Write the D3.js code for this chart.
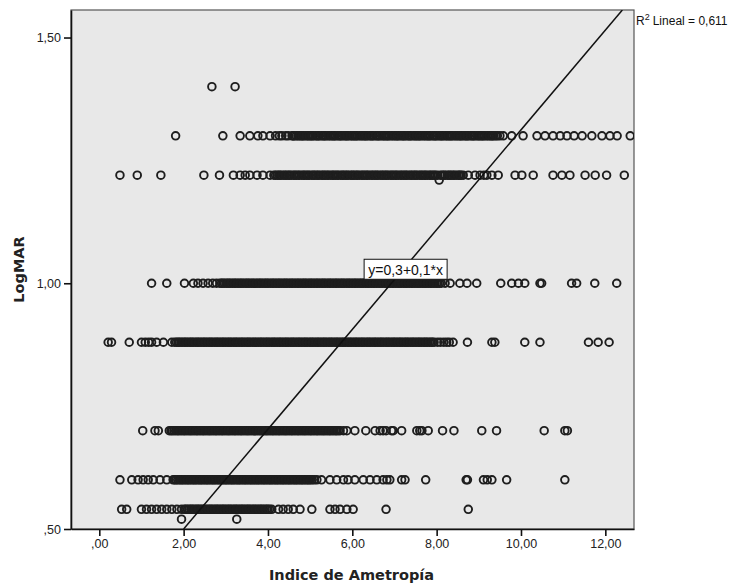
<!DOCTYPE html>
<html><head><meta charset="utf-8">
<script src="https://cdn.jsdelivr.net/npm/d3@7"></script>
<style>body{margin:0;background:#fff}</style></head>
<body><svg id="c" width="732" height="586"></svg>
<script>
// LogMAR levels (y) and the Indice de Ametropía values (x) read at each level
const x_140 = [2.67, 3.22];
const x_130 = [1.81, 2.93, 3.34, 3.57, 3.76, 3.88, 4.05, 4.18, 4.27, 4.33, 4.42, 4.48, 4.57, 4.62, 4.71, 4.79, 4.85, 4.94, 5.01, 5.07, 5.16, 5.22, 5.31, 5.37, 5.46, 5.54, 5.60, 5.69, 5.75, 5.84, 5.90, 5.99, 6.06, 6.12, 6.21, 6.29, 6.35, 6.44, 6.50, 6.59, 6.65, 6.74, 6.81, 6.87, 6.96, 7.04, 7.10, 7.19, 7.25, 7.34, 7.40, 7.49, 7.56, 7.62, 7.71, 7.79, 7.85, 7.94, 8.00, 8.09, 8.15, 8.24, 8.31, 8.37, 8.46, 8.54, 8.60, 8.69, 8.75, 8.84, 8.90, 8.99, 9.06, 9.12, 9.21, 9.29, 9.35, 9.44, 9.50, 9.58, 9.78, 10.05, 10.38, 10.57, 10.76, 10.93, 11.09, 11.26, 11.45, 11.68, 11.92, 12.11, 12.28, 12.59];
const x_130_core = [4.60, 4.67, 4.75, 4.82, 4.90, 4.97, 5.04, 5.12, 5.19, 5.27, 5.34, 5.42, 5.50, 5.57, 5.65, 5.72, 5.80, 5.87, 5.95, 6.02, 6.09, 6.17, 6.25, 6.32, 6.40, 6.47, 6.55, 6.62, 6.70, 6.77, 6.84, 6.92, 7.00, 7.07, 7.15, 7.22, 7.30, 7.37, 7.45, 7.52, 7.59, 7.67, 7.75, 7.82, 7.90, 7.97, 8.05, 8.12, 8.20, 8.27, 8.34, 8.42, 8.50, 8.57, 8.65, 8.72, 8.80, 8.87, 8.95, 9.02, 9.09, 9.17, 9.25, 9.32, 9.40];
const x_122 = [0.49, 0.90, 1.46, 2.48, 2.85, 3.18, 3.34, 3.46, 3.57, 3.74, 3.88, 4.05, 4.14, 4.22, 4.29, 4.38, 4.45, 4.52, 4.61, 4.68, 4.75, 4.84, 4.91, 4.98, 5.07, 5.14, 5.21, 5.30, 5.37, 5.44, 5.53, 5.60, 5.67, 5.76, 5.83, 5.90, 5.99, 6.06, 6.13, 6.22, 6.29, 6.36, 6.45, 6.52, 6.59, 6.68, 6.75, 6.82, 6.91, 6.98, 7.05, 7.14, 7.21, 7.28, 7.37, 7.44, 7.51, 7.60, 7.67, 7.74, 7.83, 7.90, 7.97, 8.13, 8.20, 8.29, 8.36, 8.43, 8.52, 8.58, 8.63, 8.75, 8.91, 9.03, 9.12, 9.19, 9.31, 9.46, 9.86, 10.02, 10.29, 10.76, 10.97, 11.16, 11.52, 11.76, 12.03, 12.45];
const x_122_core = [4.18, 4.26, 4.33, 4.41, 4.49, 4.56, 4.64, 4.72, 4.80, 4.87, 4.95, 5.03, 5.10, 5.18, 5.26, 5.33, 5.41, 5.49, 5.56, 5.64, 5.72, 5.79, 5.87, 5.95, 6.02, 6.10, 6.17, 6.25, 6.33, 6.40, 6.48, 6.56, 6.63, 6.71, 6.79, 6.86, 6.94, 7.02, 7.09, 7.17, 7.25, 7.32, 7.40, 7.48, 7.55, 7.63, 7.71, 7.78, 7.86, 7.94, 8.02, 8.09, 8.17, 8.25, 8.32, 8.40, 8.48, 8.55];
const x_121 = [8.06];
const x_100 = [1.24, 1.60, 2.02, 2.23, 2.34, 2.46, 2.58, 2.69, 2.78, 2.86, 2.93, 3.01, 3.08, 3.16, 3.23, 3.31, 3.38, 3.46, 3.53, 3.61, 3.68, 3.76, 3.83, 3.91, 3.98, 4.06, 4.13, 4.21, 4.28, 4.36, 4.43, 4.51, 4.58, 4.66, 4.73, 4.81, 4.88, 4.96, 5.03, 5.11, 5.18, 5.26, 5.33, 5.41, 5.48, 5.56, 5.63, 5.71, 5.78, 5.86, 5.93, 6.01, 6.08, 6.16, 6.23, 6.31, 6.38, 6.46, 6.53, 6.61, 6.68, 6.76, 6.83, 6.91, 6.98, 7.06, 7.13, 7.21, 7.28, 7.36, 7.43, 7.51, 7.58, 7.66, 7.73, 7.81, 7.88, 7.96, 8.03, 8.11, 8.20, 8.32, 8.55, 8.72, 8.95, 9.52, 9.78, 9.94, 10.09, 10.45, 10.49, 11.20, 11.32, 11.75, 12.27];
const x_100_core = [2.90, 2.97, 3.05, 3.12, 3.20, 3.27, 3.35, 3.42, 3.50, 3.57, 3.65, 3.72, 3.80, 3.87, 3.95, 4.02, 4.10, 4.17, 4.25, 4.32, 4.40, 4.47, 4.55, 4.62, 4.70, 4.77, 4.85, 4.92, 5.00, 5.07, 5.15, 5.22, 5.30, 5.37, 5.45, 5.52, 5.60, 5.67, 5.75, 5.82, 5.90, 5.97, 6.05, 6.12, 6.20, 6.27, 6.35, 6.42, 6.50, 6.57, 6.65, 6.72, 6.80, 6.87, 6.95, 7.02, 7.10, 7.17, 7.25, 7.32, 7.40, 7.47, 7.55, 7.62, 7.70, 7.77, 7.85, 7.92, 8.00, 8.07];
const x_088 = [0.21, 0.29, 0.71, 1.00, 1.09, 1.17, 1.24, 1.36, 1.52, 1.72, 1.79, 1.87, 1.94, 2.02, 2.09, 2.17, 2.24, 2.32, 2.39, 2.47, 2.54, 2.62, 2.69, 2.77, 2.84, 2.92, 2.99, 3.07, 3.14, 3.22, 3.29, 3.37, 3.44, 3.52, 3.59, 3.67, 3.74, 3.82, 3.89, 3.97, 4.04, 4.12, 4.19, 4.27, 4.34, 4.42, 4.49, 4.57, 4.64, 4.72, 4.79, 4.87, 4.94, 5.02, 5.09, 5.17, 5.24, 5.32, 5.39, 5.47, 5.54, 5.62, 5.69, 5.77, 5.84, 5.92, 5.99, 6.07, 6.14, 6.22, 6.29, 6.37, 6.44, 6.52, 6.59, 6.67, 6.74, 6.82, 6.89, 6.97, 7.04, 7.12, 7.19, 7.27, 7.34, 7.42, 7.49, 7.57, 7.64, 7.72, 7.79, 7.87, 7.94, 8.02, 8.09, 8.17, 8.24, 8.30, 8.39, 8.73, 9.31, 9.38, 10.09, 10.45, 11.60, 11.83, 12.09];
const x_088_core = [1.83, 1.90, 1.98, 2.05, 2.13, 2.20, 2.28, 2.35, 2.43, 2.50, 2.58, 2.65, 2.73, 2.80, 2.88, 2.95, 3.03, 3.10, 3.18, 3.25, 3.33, 3.40, 3.48, 3.55, 3.63, 3.70, 3.78, 3.85, 3.93, 4.00, 4.08, 4.15, 4.23, 4.30, 4.38, 4.45, 4.53, 4.60, 4.68, 4.75, 4.83, 4.90, 4.98, 5.05, 5.13, 5.20, 5.28, 5.35, 5.43, 5.50, 5.58, 5.65, 5.73, 5.80, 5.88, 5.95, 6.03, 6.10, 6.18, 6.25, 6.33, 6.40, 6.48, 6.55, 6.63, 6.70, 6.78, 6.85, 6.93, 7.00, 7.08, 7.15, 7.23, 7.30, 7.38, 7.45, 7.53, 7.60, 7.68, 7.75, 7.83, 7.90];
const x_070 = [1.03, 1.32, 1.40, 1.66, 1.73, 1.81, 1.88, 1.96, 2.03, 2.11, 2.18, 2.26, 2.33, 2.41, 2.48, 2.56, 2.63, 2.71, 2.78, 2.86, 2.93, 3.01, 3.08, 3.16, 3.23, 3.31, 3.38, 3.46, 3.53, 3.61, 3.68, 3.76, 3.83, 3.91, 3.98, 4.06, 4.13, 4.21, 4.28, 4.36, 4.43, 4.51, 4.58, 4.66, 4.73, 4.81, 4.88, 4.96, 5.03, 5.11, 5.18, 5.26, 5.33, 5.41, 5.48, 5.56, 5.63, 5.71, 5.79, 5.87, 6.06, 6.32, 6.54, 6.66, 6.73, 6.80, 6.93, 6.97, 7.17, 7.53, 7.60, 7.65, 7.80, 8.14, 8.41, 9.07, 9.42, 10.55, 11.04, 11.10];
const x_070_core = [1.70, 1.77, 1.85, 1.92, 2.00, 2.07, 2.15, 2.22, 2.30, 2.37, 2.45, 2.52, 2.60, 2.67, 2.75, 2.82, 2.90, 2.97, 3.05, 3.12, 3.20, 3.27, 3.35, 3.42, 3.50, 3.57, 3.65, 3.72, 3.80, 3.87, 3.95, 4.02, 4.10, 4.17, 4.25, 4.32, 4.40, 4.47, 4.55, 4.62, 4.70, 4.77, 4.85, 4.92, 5.00, 5.07, 5.15, 5.22, 5.30, 5.37, 5.45, 5.52, 5.60, 5.67];
const x_060 = [0.49, 0.77, 0.92, 1.04, 1.16, 1.28, 1.44, 1.60, 1.75, 1.82, 1.90, 1.97, 2.05, 2.12, 2.20, 2.27, 2.35, 2.42, 2.50, 2.57, 2.65, 2.72, 2.80, 2.87, 2.95, 3.02, 3.10, 3.17, 3.25, 3.32, 3.40, 3.47, 3.55, 3.62, 3.70, 3.77, 3.85, 3.92, 4.00, 4.07, 4.15, 4.22, 4.30, 4.37, 4.45, 4.52, 4.60, 4.67, 4.75, 4.82, 4.90, 4.97, 5.05, 5.10, 5.16, 5.27, 5.47, 5.63, 5.79, 5.90, 6.06, 6.26, 6.42, 6.58, 6.73, 6.82, 6.89, 7.17, 7.25, 7.74, 8.70, 8.73, 9.11, 9.20, 9.31, 9.66, 11.04];
const x_060_core = [1.79, 1.86, 1.94, 2.01, 2.09, 2.16, 2.24, 2.31, 2.39, 2.46, 2.54, 2.61, 2.69, 2.76, 2.84, 2.91, 2.99, 3.06, 3.14, 3.21, 3.29, 3.36, 3.44, 3.51, 3.59, 3.66, 3.74, 3.81, 3.89, 3.96, 4.04, 4.11, 4.19, 4.26, 4.34, 4.41, 4.49, 4.56, 4.64, 4.71, 4.79, 4.86, 4.94, 5.01];
const x_054 = [0.53, 0.65, 1.00, 1.12, 1.24, 1.36, 1.48, 1.60, 1.72, 1.84, 1.95, 2.02, 2.09, 2.17, 2.24, 2.32, 2.39, 2.47, 2.54, 2.62, 2.69, 2.77, 2.84, 2.92, 2.99, 3.07, 3.14, 3.22, 3.29, 3.37, 3.44, 3.52, 3.59, 3.67, 3.74, 3.82, 3.89, 3.97, 4.04, 4.09, 4.25, 4.36, 4.48, 4.60, 4.76, 5.04, 5.47, 5.59, 5.71, 5.87, 6.02, 6.80, 8.75];
const x_054_core = [2.05, 2.13, 2.20, 2.28, 2.35, 2.43, 2.50, 2.58, 2.65, 2.73, 2.80, 2.88, 2.95, 3.03, 3.10, 3.18, 3.25, 3.33, 3.40, 3.48, 3.55, 3.63, 3.70, 3.78, 3.85, 3.93, 4.00];
const x_052 = [1.95, 3.26];

const levels = [1.40, 1.30, 1.22, 1.21, 1.00, 0.88, 0.70, 0.60, 0.54, 0.52];
const xLists = [x_140, x_130.concat(x_130_core), x_122.concat(x_122_core), x_121,
  x_100.concat(x_100_core), x_088.concat(x_088_core), x_070.concat(x_070_core),
  x_060.concat(x_060_core), x_054.concat(x_054_core), x_052];

const xTicks = [0, 2, 4, 6, 8, 10, 12];
const yTicks = [0.5, 1.0, 1.5];
const fitIntercept = 0.297, fitSlope = 0.1015;
const fitLabel = "y=0,3+0,1*x";
const r2Label = "Lineal = 0,611";
const xTitle = "Indice de Ametropía";
const yTitle = "LogMAR";

const points = [];
levels.forEach((lv, i) => xLists[i].forEach(x => points.push({x, y: lv})));

const svg = d3.select("#c");
const L = 71, R = 634, T = 10, B = 529;
const xs = d3.scaleLinear().domain([-0.671, 12.68]).range([L, R]);
const ys = d3.scaleLinear().domain([0.5, 1.556]).range([B, T]);
const fmt = v => d3.format(".2f")(v).replace(".", ",").replace(/^0,/, ",");

svg.append("rect").attr("x", L).attr("y", T).attr("width", R - L).attr("height", B - T)
  .attr("fill", "#e8e8e8").attr("stroke", "#555").attr("stroke-width", 1.2);

svg.append("defs").append("clipPath").attr("id", "pc").append("rect")
  .attr("x", L).attr("y", T).attr("width", R - L).attr("height", B - T);

const g = svg.append("g").attr("clip-path", "url(#pc)");
g.selectAll("circle").data(points).join("circle")
  .attr("cx", d => xs(d.x)).attr("cy", d => ys(d.y)).attr("r", 3.8)
  .attr("fill", "none").attr("stroke", "#1e1e1e").attr("stroke-width", 1.9);

const yTop = ys.domain()[1], yBot = ys.domain()[0];
const xa = (yBot - fitIntercept) / fitSlope, xb = (yTop - fitIntercept) / fitSlope;
g.append("line").attr("x1", xs(xa)).attr("y1", ys(yBot)).attr("x2", xs(xb)).attr("y2", ys(yTop))
  .attr("stroke", "#111").attr("stroke-width", 1.5);

// equation label box
const lab = svg.append("g");
const bx = xs(6.28), by = ys(1.0) - 24;
lab.append("rect").attr("x", bx).attr("y", by).attr("width", 83).attr("height", 20)
  .attr("fill", "#fff").attr("stroke", "#111").attr("stroke-width", 1);
lab.append("text").attr("x", bx + 41.5).attr("y", by + 15.5).attr("text-anchor", "middle")
  .attr("font-family", "Liberation Sans, Arial, sans-serif").attr("font-size", 14).attr("fill", "#111")
  .text(fitLabel);

// axes
const axX = svg.append("g").attr("transform", `translate(0,${B})`)
  .call(d3.axisBottom(xs).tickValues(xTicks).tickFormat(fmt).tickSize(7).tickSizeOuter(0).tickPadding(3));
const axY = svg.append("g").attr("transform", `translate(${L},0)`)
  .call(d3.axisLeft(ys).tickValues(yTicks).tickFormat(fmt).tickSize(7).tickSizeOuter(0).tickPadding(3));
[axX, axY].forEach(a => {
  a.select(".domain").attr("stroke", "#111").attr("stroke-width", 1.6);
  a.selectAll(".tick line").attr("stroke", "#111").attr("stroke-width", 1.6);
  a.selectAll("text").attr("font-family", "Liberation Sans, Arial, sans-serif").attr("font-size", 12.5).attr("fill", "#222");
});

// titles
svg.append("text").attr("x", (L + R) / 2 - 1).attr("y", 580).attr("text-anchor", "middle")
  .attr("font-family", "DejaVu Sans, Verdana, sans-serif").attr("font-weight", "bold").attr("font-size", 14.5)
  .attr("fill", "#222").text(xTitle);
svg.append("text").attr("transform", `translate(24,${(T + B) / 2}) rotate(-90)`).attr("text-anchor", "middle")
  .attr("font-family", "DejaVu Sans, Verdana, sans-serif").attr("font-weight", "bold").attr("font-size", 14.5)
  .attr("fill", "#222").text(yTitle);

// R² label
const r2 = svg.append("text").attr("x", R + 2).attr("y", 25)
  .attr("font-family", "Liberation Sans, Arial, sans-serif").attr("font-size", 12).attr("fill", "#111");
r2.append("tspan").text("R");
r2.append("tspan").attr("font-size", 9).attr("dy", -5).text("2");
r2.append("tspan").attr("dy", 5).attr("dx", 3).text(r2Label);
</script></body></html>
